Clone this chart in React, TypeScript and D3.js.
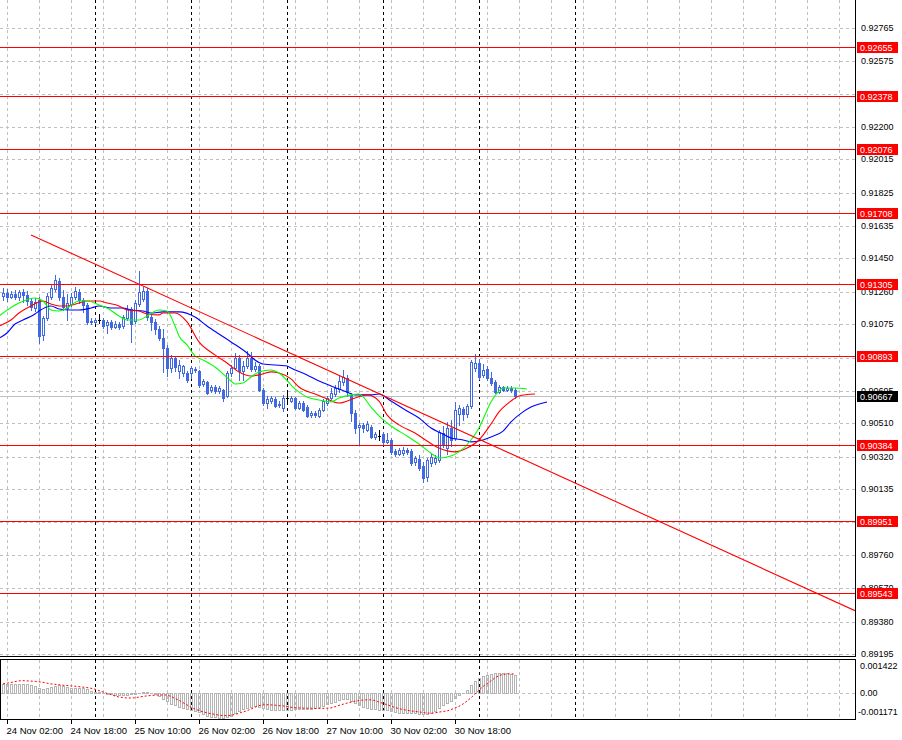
import React from 'react';
import * as d3 from 'd3';

// ---------- DATA ----------
const candleOpen = [
  0.91236, 0.91253, 0.91230, 0.91247, 0.91230, 0.91259, 0.91242, 0.91207, 0.91167, 0.91213,
  0.91014, 0.91110, 0.91230, 0.91276, 0.91321, 0.91230, 0.91167, 0.91190, 0.91230, 0.91259,
  0.91213, 0.91185, 0.91093, 0.91088, 0.91099, 0.91099, 0.91071, 0.91088, 0.91059, 0.91076,
  0.91065, 0.91110, 0.91162, 0.91093, 0.91190, 0.91219, 0.91264, 0.91116, 0.91088, 0.91048,
  0.90996, 0.90939, 0.90825, 0.90882, 0.90808, 0.90797, 0.90797, 0.90797, 0.90820, 0.90808,
  0.90734, 0.90746, 0.90700, 0.90717, 0.90694, 0.90700, 0.90666, 0.90797, 0.90825, 0.90882,
  0.90808, 0.90837, 0.90882, 0.90820, 0.90837, 0.90700, 0.90626, 0.90637, 0.90649, 0.90620,
  0.90597, 0.90654, 0.90637, 0.90654, 0.90597, 0.90626, 0.90603, 0.90558, 0.90569, 0.90552,
  0.90586, 0.90626, 0.90654, 0.90677, 0.90706, 0.90746, 0.90768, 0.90672, 0.90569, 0.90489,
  0.90501, 0.90472, 0.90489, 0.90432, 0.90438, 0.90449, 0.90404, 0.90415, 0.90352, 0.90335,
  0.90341, 0.90358, 0.90352, 0.90290, 0.90307, 0.90267, 0.90204, 0.90284, 0.90290, 0.90301,
  0.90455, 0.90369, 0.90483, 0.90426, 0.90563, 0.90592, 0.90563, 0.90609, 0.90825, 0.90854,
  0.90786, 0.90820, 0.90768, 0.90746, 0.90689, 0.90717, 0.90700, 0.90711, 0.90700,
];
const candleHigh = [
  0.91281, 0.91276, 0.91264, 0.91270, 0.91270, 0.91276, 0.91264, 0.91224, 0.91224, 0.91230,
  0.91122, 0.91253, 0.91304, 0.91356, 0.91338, 0.91270, 0.91247, 0.91253, 0.91287, 0.91276,
  0.91224, 0.91196, 0.91110, 0.91110, 0.91133, 0.91110, 0.91099, 0.91099, 0.91093, 0.91088,
  0.91128, 0.91185, 0.91173, 0.91213, 0.91378, 0.91287, 0.91281, 0.91128, 0.91105, 0.91065,
  0.91048, 0.90957, 0.90900, 0.90894, 0.90871, 0.90843, 0.90808, 0.90837, 0.90831, 0.90814,
  0.90763, 0.90751, 0.90729, 0.90729, 0.90723, 0.90706, 0.90808, 0.90843, 0.90911, 0.90900,
  0.90865, 0.90922, 0.90917, 0.90860, 0.90848, 0.90711, 0.90666, 0.90666, 0.90660, 0.90637,
  0.90672, 0.90683, 0.90666, 0.90660, 0.90637, 0.90637, 0.90615, 0.90580, 0.90580, 0.90597,
  0.90649, 0.90666, 0.90711, 0.90729, 0.90780, 0.90814, 0.90786, 0.90683, 0.90586, 0.90512,
  0.90512, 0.90523, 0.90501, 0.90461, 0.90472, 0.90461, 0.90455, 0.90426, 0.90364, 0.90369,
  0.90375, 0.90369, 0.90364, 0.90324, 0.90330, 0.90290, 0.90312, 0.90341, 0.90330, 0.90472,
  0.90495, 0.90518, 0.90529, 0.90632, 0.90615, 0.90603, 0.90620, 0.90871, 0.90905, 0.90877,
  0.90848, 0.90837, 0.90803, 0.90757, 0.90729, 0.90723, 0.90723, 0.90723, 0.90711,
];
const candleLow = [
  0.91213, 0.91207, 0.91224, 0.91219, 0.91213, 0.91202, 0.91185, 0.91156, 0.91150, 0.90968,
  0.90985, 0.91099, 0.91219, 0.91264, 0.91213, 0.91156, 0.91099, 0.91179, 0.91219, 0.91196,
  0.91145, 0.91076, 0.91076, 0.91082, 0.91082, 0.91053, 0.91025, 0.91048, 0.91053, 0.91048,
  0.91053, 0.91099, 0.90974, 0.91082, 0.91179, 0.91207, 0.91099, 0.91042, 0.91019, 0.90985,
  0.90803, 0.90780, 0.90803, 0.90808, 0.90768, 0.90780, 0.90746, 0.90768, 0.90803, 0.90717,
  0.90723, 0.90677, 0.90689, 0.90683, 0.90683, 0.90637, 0.90660, 0.90780, 0.90820, 0.90757,
  0.90757, 0.90825, 0.90808, 0.90808, 0.90694, 0.90615, 0.90597, 0.90626, 0.90603, 0.90603,
  0.90580, 0.90637, 0.90632, 0.90592, 0.90592, 0.90580, 0.90546, 0.90546, 0.90546, 0.90546,
  0.90580, 0.90615, 0.90649, 0.90666, 0.90689, 0.90729, 0.90666, 0.90523, 0.90455, 0.90387,
  0.90461, 0.90466, 0.90426, 0.90421, 0.90415, 0.90387, 0.90398, 0.90335, 0.90324, 0.90330,
  0.90330, 0.90335, 0.90273, 0.90273, 0.90244, 0.90176, 0.90181, 0.90267, 0.90278, 0.90290,
  0.90375, 0.90335, 0.90381, 0.90415, 0.90501, 0.90529, 0.90546, 0.90597, 0.90808, 0.90763,
  0.90774, 0.90757, 0.90729, 0.90683, 0.90683, 0.90694, 0.90694, 0.90689, 0.90654,
];
const candleClose = [
  0.91253, 0.91230, 0.91247, 0.91230, 0.91259, 0.91242, 0.91207, 0.91173, 0.91202, 0.91008,
  0.91110, 0.91236, 0.91281, 0.91327, 0.91230, 0.91173, 0.91196, 0.91230, 0.91264, 0.91213,
  0.91185, 0.91088, 0.91088, 0.91099, 0.91099, 0.91065, 0.91088, 0.91059, 0.91076, 0.91059,
  0.91116, 0.91162, 0.91076, 0.91196, 0.91259, 0.91264, 0.91116, 0.91088, 0.91048, 0.90996,
  0.90939, 0.90825, 0.90882, 0.90831, 0.90843, 0.90837, 0.90757, 0.90825, 0.90814, 0.90729,
  0.90751, 0.90683, 0.90717, 0.90694, 0.90711, 0.90654, 0.90797, 0.90825, 0.90882, 0.90808,
  0.90837, 0.90882, 0.90820, 0.90837, 0.90700, 0.90626, 0.90649, 0.90654, 0.90609, 0.90615,
  0.90654, 0.90654, 0.90654, 0.90597, 0.90626, 0.90586, 0.90552, 0.90569, 0.90558, 0.90586,
  0.90637, 0.90654, 0.90683, 0.90711, 0.90751, 0.90774, 0.90689, 0.90569, 0.90483, 0.90501,
  0.90483, 0.90506, 0.90432, 0.90449, 0.90438, 0.90404, 0.90415, 0.90347, 0.90335, 0.90358,
  0.90358, 0.90347, 0.90284, 0.90312, 0.90255, 0.90198, 0.90301, 0.90318, 0.90312, 0.90461,
  0.90387, 0.90483, 0.90415, 0.90586, 0.90597, 0.90563, 0.90609, 0.90860, 0.90854, 0.90774,
  0.90814, 0.90768, 0.90740, 0.90689, 0.90717, 0.90700, 0.90711, 0.90700, 0.90667,
];

// Alligator lines: bar index -> price
const lipsIdx = [-1, 4, 8, 10, 12, 14, 16, 19, 21, 24, 26, 29, 31, 34, 36, 39, 41, 43, 44, 46, 48, 50, 53, 57, 58, 60, 62, 64, 67, 69, 73, 76, 79, 82, 84, 87, 89, 92, 94, 97, 101, 104, 108, 109, 112, 114, 117, 119, 122, 124, 125, 128, 131];
const lipsVal = [0.91122, 0.91196, 0.91224, 0.91207, 0.91156, 0.91150, 0.91167, 0.91207, 0.91207, 0.91185, 0.91167, 0.91122, 0.91099, 0.91099, 0.91122, 0.91156, 0.91150, 0.91065, 0.91008, 0.90957, 0.90894, 0.90871, 0.90831, 0.90751, 0.90734, 0.90740, 0.90774, 0.90803, 0.90814, 0.90797, 0.90706, 0.90660, 0.90643, 0.90632, 0.90654, 0.90672, 0.90677, 0.90603, 0.90552, 0.90495, 0.90438, 0.90392, 0.90324, 0.90312, 0.90324, 0.90347, 0.90415, 0.90483, 0.90632, 0.90694, 0.90711, 0.90711, 0.90706];
const teethIdx = [-1, 2, 4, 7, 9, 10, 12, 14, 16, 19, 21, 24, 26, 29, 31, 34, 36, 39, 40, 43, 46, 49, 53, 56, 59, 62, 64, 67, 69, 72, 74, 78, 81, 84, 88, 91, 94, 96, 99, 103, 106, 109, 113, 116, 119, 122, 124, 127, 129, 133];
const teethVal = [0.91065, 0.91099, 0.91139, 0.91179, 0.91202, 0.91207, 0.91190, 0.91179, 0.91179, 0.91196, 0.91207, 0.91207, 0.91196, 0.91179, 0.91156, 0.91150, 0.91133, 0.91128, 0.91139, 0.91139, 0.91088, 0.90974, 0.90900, 0.90854, 0.90803, 0.90780, 0.90786, 0.90803, 0.90797, 0.90763, 0.90717, 0.90677, 0.90649, 0.90626, 0.90654, 0.90672, 0.90637, 0.90558, 0.90501, 0.90455, 0.90409, 0.90369, 0.90347, 0.90369, 0.90415, 0.90506, 0.90575, 0.90637, 0.90666, 0.90677];
const jawIdx = [-1, 1, 3, 5, 8, 9, 12, 14, 17, 19, 22, 24, 27, 30, 32, 35, 37, 40, 44, 48, 51, 54, 57, 61, 63, 65, 71, 72, 76, 79, 82, 86, 88, 92, 94, 97, 101, 104, 107, 110, 112, 115, 117, 120, 122, 125, 127, 130, 132, 136];
const jawVal = [0.90996, 0.91025, 0.91076, 0.91099, 0.91133, 0.91150, 0.91179, 0.91162, 0.91156, 0.91156, 0.91167, 0.91179, 0.91167, 0.91167, 0.91156, 0.91150, 0.91139, 0.91145, 0.91145, 0.91116, 0.91065, 0.91019, 0.90974, 0.90911, 0.90871, 0.90848, 0.90837, 0.90825, 0.90786, 0.90751, 0.90723, 0.90689, 0.90672, 0.90672, 0.90677, 0.90637, 0.90580, 0.90540, 0.90483, 0.90449, 0.90426, 0.90415, 0.90404, 0.90415, 0.90432, 0.90466, 0.90518, 0.90575, 0.90603, 0.90632];

// MACD (histogram) and signal, one value per bar
const macdMain = [
  0.00038, 0.00039, 0.00040, 0.00040, 0.00040, 0.00039, 0.00037, 0.00034,
  0.00028, 0.00020, 0.00016, 0.00020, 0.00026, 0.00030, 0.00032, 0.00028,
  0.00024, 0.00022, 0.00022, 0.00023, 0.00020, 0.00015, 0.00010, 0.00006,
  0.00003, 0.00000, -0.00003, -0.00005, -0.00008, -0.00009, -0.00009, -0.00008,
  -0.00006, -0.00004, 0.00000, 0.00003, 0.00004, 0.00001, -0.00005, -0.00012,
  -0.00025, -0.00036, -0.00046, -0.00054, -0.00060, -0.00064, -0.00068, -0.00073,
  -0.00078, -0.00084, -0.00092, -0.00098, -0.00102, -0.00105, -0.00108, -0.00110,
  -0.00105, -0.00098, -0.00088, -0.00078, -0.00070, -0.00064, -0.00059, -0.00057,
  -0.00060, -0.00065, -0.00070, -0.00072, -0.00074, -0.00075, -0.00075, -0.00074,
  -0.00072, -0.00071, -0.00070, -0.00071, -0.00070, -0.00068, -0.00066, -0.00062,
  -0.00056, -0.00050, -0.00044, -0.00038, -0.00032, -0.00028, -0.00028, -0.00034,
  -0.00044, -0.00053, -0.00060, -0.00064, -0.00068, -0.00070, -0.00072, -0.00074,
  -0.00076, -0.00080, -0.00083, -0.00085, -0.00086, -0.00086, -0.00088, -0.00089,
  -0.00090, -0.00092, -0.00090, -0.00086, -0.00078, -0.00066, -0.00054, -0.00044,
  -0.00034, -0.00022, -0.00010, 0.00000, 0.00012, 0.00032, 0.00050, 0.00064,
  0.00072, 0.00078, 0.00082, 0.00084, 0.00085, 0.00085, 0.00084, 0.00082, 0.00079,
];
const macdSignal = [
  0.00039, 0.00042, 0.00045, 0.00049, 0.00052, 0.00053, 0.00052, 0.00051,
  0.00050, 0.00048, 0.00046, 0.00042, 0.00039, 0.00037, 0.00035, 0.00033,
  0.00032, 0.00030, 0.00029, 0.00027, 0.00025, 0.00023, 0.00020, 0.00016,
  0.00010, 0.00004, -0.00002, -0.00007, -0.00013, -0.00018, -0.00020, -0.00022,
  -0.00022, -0.00021, -0.00018, -0.00015, -0.00013, -0.00011, -0.00010, -0.00009,
  -0.00009, -0.00009, -0.00015, -0.00024, -0.00032, -0.00042, -0.00052, -0.00062,
  -0.00070, -0.00076, -0.00082, -0.00086, -0.00090, -0.00093, -0.00096, -0.00098,
  -0.00098, -0.00097, -0.00093, -0.00088, -0.00082, -0.00077, -0.00070, -0.00062,
  -0.00055, -0.00052, -0.00051, -0.00052, -0.00053, -0.00055, -0.00056, -0.00059,
  -0.00062, -0.00064, -0.00065, -0.00066, -0.00066, -0.00066, -0.00067, -0.00067,
  -0.00067, -0.00066, -0.00065, -0.00060, -0.00054, -0.00049, -0.00044, -0.00040,
  -0.00036, -0.00033, -0.00031, -0.00030, -0.00030, -0.00033, -0.00040, -0.00045,
  -0.00051, -0.00057, -0.00063, -0.00068, -0.00072, -0.00075, -0.00078, -0.00080,
  -0.00082, -0.00085, -0.00087, -0.00088, -0.00086, -0.00083, -0.00080, -0.00078,
  -0.00072, -0.00065, -0.00058, -0.00048, -0.00035, -0.00021, -0.00005, 0.00012,
  0.00028, 0.00040, 0.00052, 0.00065, 0.00075, 0.00080, 0.00082, 0.00082, 0.00082,
];

const levelPrices = [0.92655, 0.92378, 0.92076, 0.91708, 0.91305, 0.90893, 0.90384, 0.89951, 0.89543];
const priceTicks = [0.92765, 0.92575, 0.92390, 0.92200, 0.92015, 0.91825, 0.91635, 0.91450, 0.91260, 0.91075, 0.90885, 0.90695, 0.90510, 0.90320, 0.90135, 0.89945, 0.89760, 0.89570, 0.89380, 0.89195];
const currentPrice = 0.90667;
const trendIdx = [7, 213];
const trendVal = [0.91584, 0.89442];
const timeLabelIdx = [1, 17, 33, 49, 65, 81, 97, 113];
const timeLabels = ['24 Nov 02:00', '24 Nov 18:00', '25 Nov 10:00', '26 Nov 02:00', '26 Nov 18:00', '27 Nov 10:00', '30 Nov 02:00', '30 Nov 18:00'];
const daySepIdx = [23, 47, 71, 95, 119, 143];
const indTickVals = [0.001422, 0, -0.001171];
const indTickLabels = ['0.001422', '0.00', '-0.001171'];

// ---------- LAYOUT ----------
const W = 902, H = 740;
const PR = 855;
const MAIN_B = 657;
const IND_T = 660, IND_B = 720;
const FONT = "'Liberation Sans', Arial, sans-serif";
const BLUE = '#4169E1';

const xScale = d3.scaleLinear().domain([-0.75, 213]).range([0, PR]);
const yScale = d3.scaleLinear().domain([0.89178, 0.92923]).range([MAIN_B, 0]);
const yInd = d3.scaleLinear().domain([-0.001171, 0.001422]).range([IND_B, IND_T]);

const gridIdx = d3.range(1, 213, 8);

function maPath(idx: number[], val: number[]) {
  const pts = idx.map((d, k) => [xScale(d), yScale(val[k])] as [number, number]);
  return d3.line().curve(d3.curveMonotoneX)(pts) || '';
}

export default function App() {
  const px = (i: number) => Math.round(xScale(i));
  const py = (v: number) => Math.round(yScale(v));

  // axis labels hidden behind a price-level tag (as the terminal does)
  const shownTicks = priceTicks.filter(
    (t) => !levelPrices.some((p) => Math.abs(yScale(p) - yScale(t)) < 4)
  );

  const candles = candleOpen.map((o, i) => {
    const c = candleClose[i], h = candleHigh[i], l = candleLow[i];
    const x = px(i);
    const top = py(Math.max(o, c));
    const bot = py(Math.min(o, c));
    const yh = py(h), yl = py(l);
    if (o === c) {
      return (
        <g key={i}>
          <rect x={x} y={yh} width={1} height={yl - yh + 1} fill="#000" />
          <rect x={x - 1} y={top} width={3} height={1} fill="#000" />
        </g>
      );
    }
    const bull = c > o;
    return (
      <g key={i}>
        <rect x={x} y={yh} width={1} height={yl - yh + 1} fill={BLUE} />
        <rect x={x - 1} y={top} width={3} height={bot - top + 1} fill={BLUE} />
        {bull && bot - top - 1 > 0 && (
          <rect x={x} y={top + 1} width={1} height={bot - top - 1} fill="#fff" />
        )}
      </g>
    );
  });

  const signalPath = d3.line()(macdSignal.map((v, i) => [xScale(i), yInd(v)] as [number, number])) || '';
  const zeroY = Math.round(yInd(0));

  return (
    <svg width={W} height={H} style={{ position: 'fixed', left: 0, top: 0, background: '#fff' }} fontFamily={FONT}>
      <defs>
        <clipPath id="mainClip"><rect x={0} y={0} width={PR} height={MAIN_B} /></clipPath>
        <clipPath id="indClip"><rect x={0} y={IND_T} width={PR} height={IND_B - IND_T} /></clipPath>
      </defs>
      <rect x={0} y={0} width={W} height={H} fill="#fff" />

      {/* grid main */}
      <g stroke="#c0c0c0" strokeDasharray="3,3" strokeWidth={1} shapeRendering="crispEdges">
        {priceTicks.map((t, k) => (
          <line key={'h' + k} x1={0} x2={PR} y1={py(t) + 0.5} y2={py(t) + 0.5} />
        ))}
        {gridIdx.map((g) => (
          <g key={'v' + g}>
            <line x1={px(g) + 0.5} x2={px(g) + 0.5} y1={0} y2={MAIN_B} />
            <line x1={px(g) + 0.5} x2={px(g) + 0.5} y1={IND_T} y2={IND_B} />
          </g>
        ))}
        <line x1={0} x2={PR} y1={zeroY + 0.5} y2={zeroY + 0.5} />
      </g>
      <g stroke="#000" strokeDasharray="3,3" strokeWidth={1} shapeRendering="crispEdges">
        {daySepIdx.map((d) => (
          <g key={'d' + d}>
            <line x1={px(d) + 0.5} x2={px(d) + 0.5} y1={0} y2={MAIN_B} />
            <line x1={px(d) + 0.5} x2={px(d) + 0.5} y1={IND_T} y2={IND_B} />
          </g>
        ))}
      </g>

      {/* current price line */}
      <line x1={0} x2={PR} y1={py(currentPrice) + 0.5} y2={py(currentPrice) + 0.5} stroke="#c0c0c0" shapeRendering="crispEdges" />

      <g clipPath="url(#mainClip)">
        <g shapeRendering="crispEdges">{candles}</g>
        <path d={maPath(jawIdx, jawVal)} fill="none" stroke="#0000ff" strokeWidth={1.1} />
        <path d={maPath(teethIdx, teethVal)} fill="none" stroke="#ff0000" strokeWidth={1.1} />
        <path d={maPath(lipsIdx, lipsVal)} fill="none" stroke="#00ff00" strokeWidth={1.1} />
        {levelPrices.map((p, k) => (
          <line key={'lv' + k} x1={0} x2={PR} y1={py(p) + 0.5} y2={py(p) + 0.5} stroke="#ff0000" strokeWidth={1} shapeRendering="crispEdges" />
        ))}
        <line x1={xScale(trendIdx[0])} y1={yScale(trendVal[0])} x2={xScale(trendIdx[1])} y2={yScale(trendVal[1])} stroke="#ff0000" strokeWidth={1.1} />
      </g>

      {/* indicator */}
      <g clipPath="url(#indClip)">
        <g stroke="#b4b4b4" fill="none" strokeWidth={1} shapeRendering="crispEdges">
          {macdMain.map((v, i) => {
            const x = px(i);
            const y0 = zeroY, y1 = Math.round(yInd(v));
            const top = Math.min(y0, y1), bot = Math.max(y0, y1);
            return <rect key={'m' + i} x={x - 0.5} y={top + 0.5} width={2} height={Math.max(bot - top, 0.01)} />;
          })}
        </g>
        <path d={signalPath} fill="none" stroke="#ff0000" strokeWidth={1} strokeDasharray="2,2" />
      </g>

      {/* frames */}
      <g stroke="#000" strokeWidth={1} shapeRendering="crispEdges" fill="none">
        <line x1={PR + 0.5} x2={PR + 0.5} y1={0} y2={MAIN_B} />
        <line x1={0} x2={PR + 0.5} y1={MAIN_B - 0.5} y2={MAIN_B - 0.5} />
        <rect x={0.5} y={IND_T - 0.5} width={PR} height={IND_B - IND_T} />
        {timeLabelIdx.map((t, k) => (
          <line key={'tt' + k} x1={px(t) + 0.5} x2={px(t) + 0.5} y1={IND_B} y2={IND_B + 4} />
        ))}
      </g>

      {/* right axis labels */}
      <g fontSize={9} fill="#000">
        {shownTicks.map((t, k) => (
          <text key={'pt' + k} x={861} y={yScale(t)} dominantBaseline="central">{t.toFixed(5)}</text>
        ))}
      </g>
      {levelPrices.map((p, k) => (
        <g key={'ll' + k}>
          <rect x={857} y={py(p) - 5} width={41} height={11} fill="#ff0000" />
          <text x={860} y={py(p) + 0.5} dominantBaseline="central" fontSize={9} fill="#fff">{p.toFixed(5)}</text>
        </g>
      ))}
      <g>
        <rect x={857} y={py(currentPrice) - 5} width={41} height={11} fill="#000" />
        <text x={860} y={py(currentPrice) + 0.5} dominantBaseline="central" fontSize={9} fill="#fff">{currentPrice.toFixed(5)}</text>
      </g>
      <g fontSize={9} fill="#000">
        {indTickVals.map((v, k) => {
          const y = Math.min(Math.max(yInd(v), IND_T + 6), IND_B - 8);
          return <text key={'it' + k} x={k === 2 ? 858 : 860} y={y} dominantBaseline="central">{indTickLabels[k]}</text>;
        })}
      </g>

      {/* time labels */}
      <g fontSize={9.5} fill="#000">
        {timeLabelIdx.map((t, k) => (
          <text key={'tl' + k} x={px(t) - 0.5} y={734}>{timeLabels[k]}</text>
        ))}
      </g>
    </svg>
  );
}
